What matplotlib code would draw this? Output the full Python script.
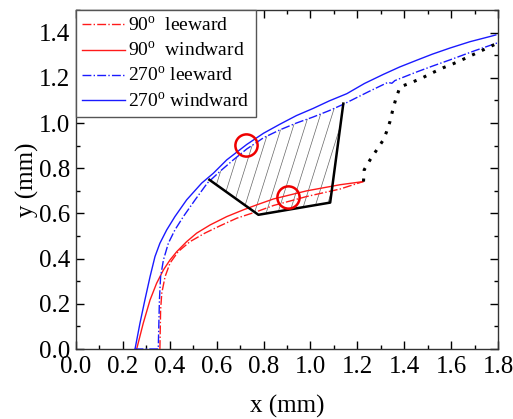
import numpy as np
import matplotlib
matplotlib.use("Agg")
import matplotlib.pyplot as plt
from matplotlib.patches import Polygon
from matplotlib.ticker import MultipleLocator, FormatStrFormatter

plt.rcParams['font.family'] = ['Liberation Serif', 'DejaVu Serif']
plt.rcParams['mathtext.fontset'] = 'custom'
plt.rcParams['mathtext.rm'] = 'Liberation Serif'

# --- data ---
x_90_lee = [0.358, 0.361, 0.366, 0.380, 0.401, 0.436, 0.486, 0.550, 0.614, 0.686, 0.771,
            0.842, 0.984, 1.126, 1.225]
y_90_lee = [0.000, 0.173, 0.247, 0.320, 0.380, 0.431, 0.475, 0.513, 0.545, 0.579, 0.608,
            0.635, 0.675, 0.708, 0.741]

x_90_wind = [0.259, 0.287, 0.316, 0.344, 0.373, 0.401, 0.430, 0.472, 0.515, 0.572, 0.643,
             0.714, 0.771, 0.842, 0.984, 1.126, 1.225]
y_90_wind = [0.000, 0.114, 0.217, 0.291, 0.350, 0.394, 0.431, 0.475, 0.513, 0.549, 0.586,
             0.616, 0.638, 0.664, 0.700, 0.727, 0.741]

x_270_lee = [0.250, 0.351, 0.356, 0.361, 0.373, 0.394, 0.422, 0.458, 0.508, 0.560, 0.614,
             0.671, 0.728, 0.800, 0.870, 0.940, 1.012, 1.080, 1.140, 1.250, 1.330, 1.347,
             1.360, 1.450, 1.520, 1.596, 1.700, 1.795]
y_270_lee = [0.000, 0.000, 0.217, 0.320, 0.394, 0.468, 0.527, 0.586, 0.660, 0.734, 0.786,
             0.837, 0.885, 0.935, 0.970, 1.000, 1.027, 1.055, 1.083, 1.140, 1.180, 1.176,
             1.188, 1.225, 1.252, 1.280, 1.320, 1.354]

x_270_wind = [0.252, 0.273, 0.294, 0.316, 0.337, 0.358, 0.387, 0.422, 0.472, 0.536, 0.586,
              0.643, 0.728, 0.800, 0.870, 0.940, 1.012, 1.080, 1.155, 1.230, 1.310, 1.380,
              1.453, 1.520, 1.595, 1.680, 1.773, 1.790]
y_270_wind = [0.000, 0.114, 0.217, 0.320, 0.409, 0.468, 0.527, 0.586, 0.660, 0.734, 0.778,
              0.837, 0.905, 0.955, 0.995, 1.033, 1.065, 1.098, 1.130, 1.175, 1.215, 1.248,
              1.278, 1.305, 1.332, 1.360, 1.385, 1.390]

# black outline of the hatched zone
x_zone = [0.569, 0.778, 1.084, 1.140]
y_zone = [0.749, 0.594, 0.648, 1.086]

# dotted black link
x_dot = [1.226, 1.229, 1.254, 1.283, 1.311, 1.325, 1.339, 1.351, 1.365, 1.382,
         1.425, 1.475, 1.517, 1.564, 1.610, 1.655, 1.700, 1.745, 1.790]
y_dot = [0.741, 0.793, 0.837, 0.882, 0.926, 0.963, 1.007, 1.059, 1.111, 1.160,
         1.177, 1.199, 1.221, 1.244, 1.263, 1.284, 1.306, 1.328, 1.350]

# red circle markers
x_circ = [0.724, 0.903]
y_circ = [0.904, 0.672]

RED = '#ff1a1a'
BLUE = '#1a1aff'

fig = plt.figure(figsize=(5.13, 4.19), dpi=100)
ax = fig.add_axes([0.148, 0.167, 0.823, 0.809])

# hatched zone : black polyline closed by the 270 leeward curve
xs_back = np.linspace(x_zone[-1], x_zone[0], 30)
ys_back = np.interp(xs_back, x_270_lee, y_270_lee)
poly_pts = list(zip(x_zone, y_zone)) + list(zip(xs_back, ys_back))
zone = Polygon(poly_pts, closed=True, facecolor='none', edgecolor='none')
ax.add_patch(zone)
slope = 0.354 / 0.107
for c in np.arange(0.35, 1.20, 0.05):
    hl, = ax.plot([c, c + 0.8 / slope], [0.4, 1.2], color='#666666', lw=0.5, zorder=1)
    hl.set_clip_path(zone)

ax.plot(x_90_lee, y_90_lee, color=RED, lw=1.0, ls='-.', label='90$^{\\rm o}$  leeward', zorder=3)
ax.plot(x_90_wind, y_90_wind, color=RED, lw=1.0, ls='-', label='90$^{\\rm o}$  windward', zorder=3)
ax.plot(x_270_lee, y_270_lee, color=BLUE, lw=1.0, ls='-.', label='270$^{\\rm o}$ leeward', zorder=3)
ax.plot(x_270_wind, y_270_wind, color=BLUE, lw=1.0, ls='-', label='270$^{\\rm o}$ windward', zorder=3)

ax.plot(x_zone, y_zone, color='black', lw=1.8, zorder=4)
ax.plot(x_dot, y_dot, color='black', lw=2.2, ls=(0, (1, 2.5)), zorder=4)
ax.plot(x_circ, y_circ, ls='none', marker='o', ms=16, mfc='none', mec='#ee0000', mew=1.8, zorder=5)

ax.set_xlim(0, 1.8)
ax.set_ylim(0, 1.5)
ax.xaxis.set_major_locator(MultipleLocator(0.2))
ax.xaxis.set_minor_locator(MultipleLocator(0.1))
ax.yaxis.set_major_locator(MultipleLocator(0.2))
ax.yaxis.set_minor_locator(MultipleLocator(0.1))
ax.xaxis.set_major_formatter(FormatStrFormatter('%.1f'))
ax.yaxis.set_major_formatter(FormatStrFormatter('%.1f'))
ax.tick_params(which='both', direction='in', top=True, right=True, labelsize=18, width=1.0)
ax.tick_params(which='major', length=6)
ax.tick_params(which='minor', length=3)
ax.tick_params(axis='x', pad=5)
ax.tick_params(axis='y', pad=4)
for sp in ax.spines.values():
    sp.set_color('#333333')
    sp.set_linewidth(1.0)

ax.set_xlabel('x (mm)', fontsize=18, labelpad=12)
ax.set_ylabel('y (mm)', fontsize=18, labelpad=0)

leg = ax.legend(loc='upper left', borderaxespad=0, fontsize=14, handlelength=2.2,
                handletextpad=0.2, labelspacing=0.3, borderpad=0.3, fancybox=False,
                framealpha=1)
leg.get_frame().set_edgecolor('#555555')
leg.get_frame().set_linewidth(1.0)

fig.savefig('out.png', dpi=100)
